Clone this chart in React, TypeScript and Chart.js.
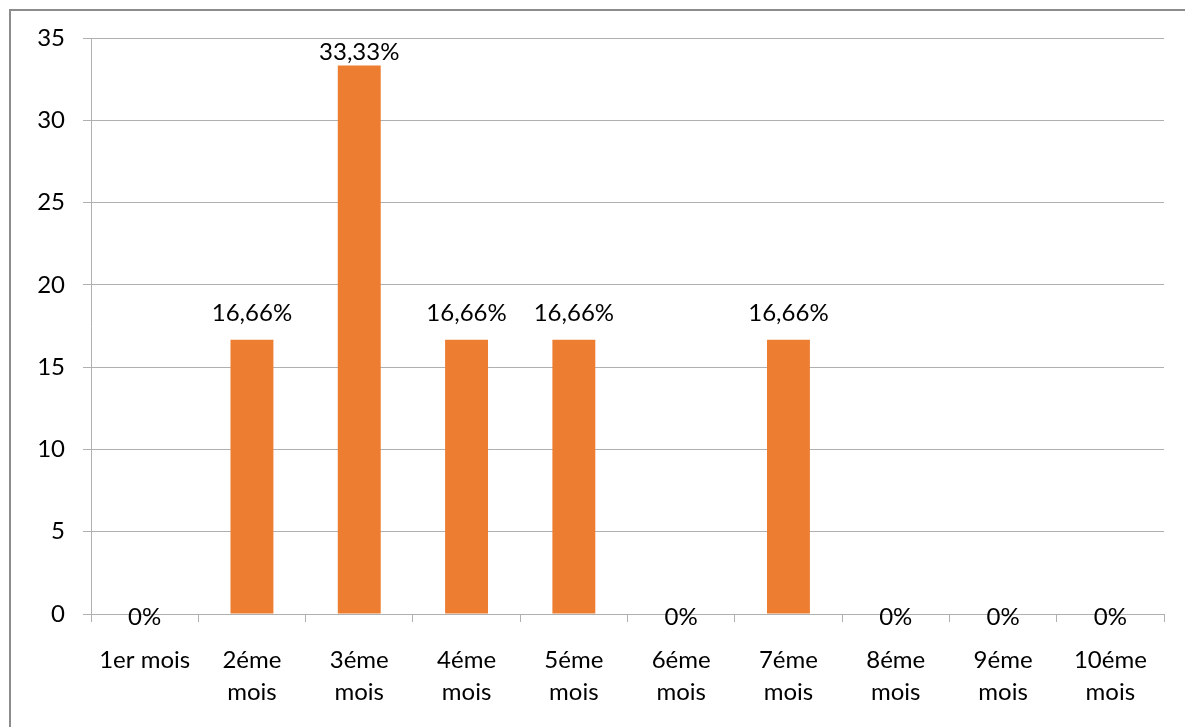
import React, { useEffect, useRef } from "react";
import { Chart, registerables } from "chart.js";

Chart.register(...registerables);

const categories: (string | string[])[] = [
  "1er mois",
  ["2éme", "mois"],
  ["3éme", "mois"],
  ["4éme", "mois"],
  ["5éme", "mois"],
  ["6éme", "mois"],
  ["7éme", "mois"],
  ["8éme", "mois"],
  ["9éme", "mois"],
  ["10éme", "mois"],
];
const values = [0, 16.66, 33.33, 16.66, 16.66, 0, 16.66, 0, 0, 0];
const valueLabels = ["0%", "16,66%", "33,33%", "16,66%", "16,66%", "0%", "16,66%", "0%", "0%", "0%"];
const yTicks = [0, 5, 10, 15, 20, 25, 30, 35];

const FONT = "Lato, 'Open Sans', sans-serif";
const FONT_SIZE = 24;
const BAR = "#ED7D31";
const GRID = "#b0b0b0";

// Writes each value label above its bar (zero bars get theirs on the axis line).
const valueLabelPlugin = {
  id: "valueLabels",
  afterDatasetsDraw(chart: any) {
    const { ctx, chartArea } = chart;
    const meta = chart.getDatasetMeta(0);
    ctx.save();
    ctx.font = `${FONT_SIZE}px ${FONT}`;
    ctx.fillStyle = "#000";
    ctx.textAlign = "center";
    ctx.textBaseline = "alphabetic";
    meta.data.forEach((bar: any, i: number) => {
      const v = values[i];
      let y: number;
      if (v === 0) y = bar.y + 11;
      else y = Math.max(bar.y - 19, chartArea.top + 22);
      ctx.fillText(valueLabels[i], bar.x, y);
    });
    ctx.restore();
  },
};

export default function App() {
  const ref = useRef<HTMLCanvasElement>(null);

  useEffect(() => {
    if (!ref.current) return;
    const chart = new Chart(ref.current, {
      type: "bar",
      data: {
        labels: categories,
        datasets: [
          {
            data: values,
            backgroundColor: BAR,
            barPercentage: 0.4,
            categoryPercentage: 1,
          },
        ],
      },
      options: {
        responsive: false,
        animation: false,
        layout: { padding: { left: 0, top: 38, right: 21, bottom: 0 } },
        plugins: { legend: { display: false }, tooltip: { enabled: false } },
        scales: {
          x: {
            offset: true,
            grid: {
              offset: true,
              drawOnChartArea: false,
              drawTicks: true,
              tickLength: 8,
              color: GRID,
            },
            border: { color: GRID },
            ticks: {
              color: "#000",
              font: { family: FONT, size: FONT_SIZE, lineHeight: 1.3 },
              padding: 23,
              maxRotation: 0,
              autoSkip: false,
            },
            afterFit(scale: any) {
              scale.height = 113;
            },
          },
          y: {
            min: 0,
            max: 35,
            afterBuildTicks(scale: any) {
              scale.ticks = yTicks.map((v) => ({ value: v }));
            },
            grid: { color: GRID, tickLength: 8 },
            border: { color: GRID },
            ticks: {
              color: "#000",
              font: { family: FONT, size: FONT_SIZE },
              padding: 18,
            },
            afterFit(scale: any) {
              scale.width = 91;
            },
          },
        },
      },
      plugins: [valueLabelPlugin],
    });
    return () => chart.destroy();
  }, []);

  return (
    <div style={{ position: "absolute", left: 0, top: 0, width: 1185, height: 727, overflow: "hidden", background: "#fff" }}>
      <div
        style={{
          position: "absolute",
          left: 9,
          top: 9,
          width: 1300,
          height: 900,
          border: "2px solid #8c8c8c",
          boxSizing: "border-box",
        }}
      />
      <canvas ref={ref} width={1185} height={727} style={{ position: "absolute", left: 0, top: 0 }} />
    </div>
  );
}
